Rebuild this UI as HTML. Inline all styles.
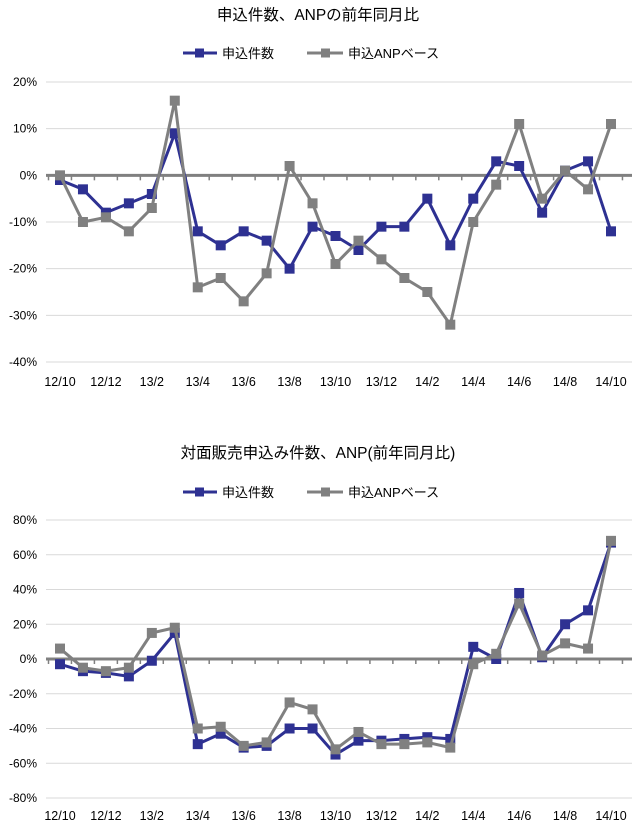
<!DOCTYPE html>
<html><head><meta charset="utf-8"><style>
html,body{margin:0;padding:0;background:#fff;}
svg{display:block;font-family:"Liberation Sans","Noto Sans CJK JP",sans-serif;}
</style></head><body>
<svg id="s" width="637" height="829" xmlns="http://www.w3.org/2000/svg"></svg>
<script>
const S=document.getElementById('s');let h='';
const X0=60,DX=(611-60)/24;
const labs=['12/10','12/12','13/2','13/4','13/6','13/8','13/10','13/12','14/2','14/4','14/6','14/8','14/10'];
function chart(o){
  const {title,ty,ly,top,bot,vmax,vmin,step,b,g,xy}=o;
  const Y=v=>top+(vmax-v)/(vmax-vmin)*(bot-top);
  h+=`<text x="318" y="${ty}" font-size="15.5" text-anchor="middle" fill="#000">${title}</text>`;
  h+=`<line x1="183" y1="${ly}" x2="217" y2="${ly}" stroke="#2e3192" stroke-width="3"/><rect x="195" y="${ly-4.5}" width="9" height="9" fill="#2e3192"/>`;
  h+=`<text x="222" y="${ly+5}" font-size="13" fill="#000">申込件数</text>`;
  h+=`<line x1="307" y1="${ly}" x2="343" y2="${ly}" stroke="#808080" stroke-width="3"/><rect x="321" y="${ly-4.5}" width="9" height="9" fill="#808080"/>`;
  h+=`<text x="348" y="${ly+5}" font-size="13" fill="#000">申込ANPベース</text>`;
  for(let v=vmax;v>=vmin;v-=step){const y=Y(v);
    if(v!==0)h+=`<line x1="46" y1="${y}" x2="632" y2="${y}" stroke="#d9d9d9" stroke-width="1"/>`;
    h+=`<text x="37" y="${y+4}" font-size="12" text-anchor="end" fill="#000">${v}%</text>`;}
  const y0=Y(0);
  for(let i=0;i<=25;i++){const x=48.5+i*DX;h+=`<line x1="${x}" y1="${y0}" x2="${x}" y2="${y0+5}" stroke="#808080" stroke-width="1.5"/>`;}
  h+=`<line x1="46" y1="${y0}" x2="632" y2="${y0}" stroke="#808080" stroke-width="3"/>`;
  function ser(d,c){h+=`<polyline fill="none" stroke="${c}" stroke-width="3" points="${d.map((v,i)=>(X0+i*DX)+','+Y(v)).join(' ')}"/>`;
    d.forEach((v,i)=>h+=`<rect x="${X0+i*DX-5}" y="${Y(v)-5}" width="10" height="10" fill="${c}"/>`);}
  ser(b,'#2e3192');ser(g,'#808080');
  labs.forEach((l,i)=>h+=`<text x="${X0+2*i*DX}" y="${xy}" font-size="12.5" text-anchor="middle" fill="#000">${l}</text>`);
}
chart({title:'申込件数、ANPの前年同月比',ty:20,ly:53,top:82,bot:362,vmax:20,vmin:-40,step:10,xy:386,
b:[-1,-3,-8,-6,-4,9,-12,-15,-12,-14,-20,-11,-13,-16,-11,-11,-5,-15,-5,3,2,-8,1,3,-12],
g:[0,-10,-9,-12,-7,16,-24,-22,-27,-21,2,-6,-19,-14,-18,-22,-25,-32,-10,-2,11,-5,1,-3,11]});
chart({title:'対面販売申込み件数、ANP(前年同月比)',ty:458,ly:492,top:520,bot:798,vmax:80,vmin:-80,step:20,xy:820,
b:[-3,-7,-8,-10,-1,15,-49,-43,-51,-50,-40,-40,-55,-47,-47,-46,-45,-46,7,0,38,1,20,28,67],
g:[6,-5,-7,-5,15,18,-40,-39,-50,-48,-25,-29,-52,-42,-49,-49,-48,-51,-3,3,32,2,9,6,68]});
S.innerHTML=h;
</script>
</body></html>
